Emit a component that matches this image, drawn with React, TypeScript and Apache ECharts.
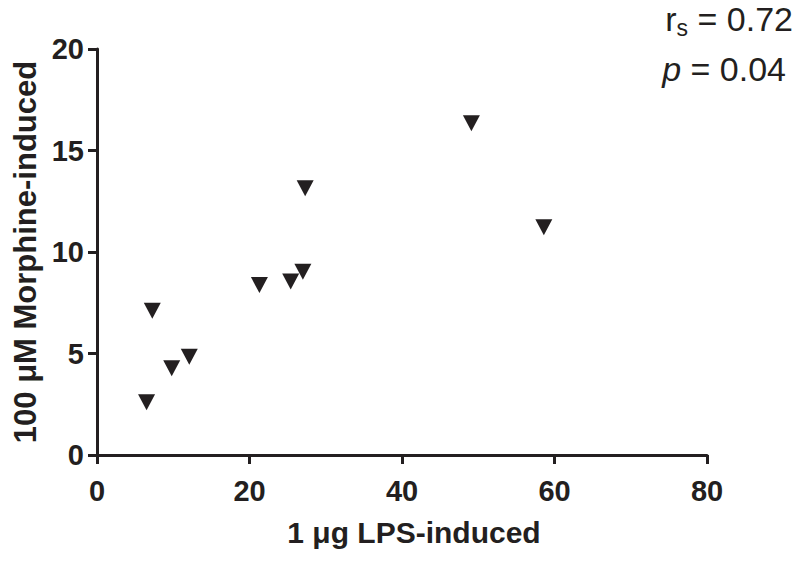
import React, { useEffect, useRef } from "react";
import * as echarts from "echarts";

const lpsValues = [6.5, 7.25, 9.8, 12.1, 21.3, 25.4, 27.0, 27.3, 49.1, 58.6];
const morphineValues = [2.6, 7.1, 4.27, 4.84, 8.37, 8.55, 9.03, 13.14, 16.34, 11.22];
const xTicks = [0, 20, 40, 60, 80];
const yTicks = [0, 5, 10, 15, 20];
const xTitle = "1 \u03bcg LPS-induced";
const yTitle = "100 \u03bcM Morphine-induced";
const rsText = "0.72";
const pText = "0.04";

export default function App() {
  const ref = useRef<HTMLDivElement>(null);
  useEffect(() => {
    if (!ref.current) return;
    const chart = echarts.init(ref.current, undefined, { renderer: "svg" });
    const font = "'Liberation Sans', Arial, Helvetica, sans-serif";
    const axisColor = "#231f20";
    chart.setOption({
      animation: false,
      backgroundColor: "#fff",
      grid: { left: 97, right: 93, top: 49, bottom: 107, containLabel: false },
      xAxis: {
        type: "value",
        min: xTicks[0],
        max: xTicks[xTicks.length - 1],
        interval: 20,
        name: xTitle,
        nameLocation: "middle",
        nameGap: 62,
        nameTextStyle: { fontFamily: font, fontWeight: "bold", fontSize: 30, color: axisColor, padding: [0, 0, 0, 24] },
        axisLine: { show: true, onZero: false, lineStyle: { color: axisColor, width: 3 } },
        axisTick: { show: true, length: 9, lineStyle: { color: axisColor, width: 3 } },
        axisLabel: { fontFamily: font, fontWeight: "bold", fontSize: 29, color: axisColor, margin: 21 },
        splitLine: { show: false },
      },
      yAxis: {
        type: "value",
        min: yTicks[0],
        max: yTicks[yTicks.length - 1],
        interval: 5,
        name: yTitle,
        nameLocation: "middle",
        nameGap: 50,
        nameRotate: 90,
        nameTextStyle: { fontFamily: font, fontWeight: "bold", fontSize: 31, color: axisColor },
        axisLine: { show: true, onZero: false, lineStyle: { color: axisColor, width: 3 } },
        axisTick: { show: true, length: 9, lineStyle: { color: axisColor, width: 3 } },
        axisLabel: { fontFamily: font, fontWeight: "bold", fontSize: 29, color: axisColor, margin: 13 },
        splitLine: { show: false },
      },
      series: [
        {
          type: "scatter",
          data: lpsValues.map((x, i) => [x, morphineValues[i]]),
          symbol: "triangle",
          symbolRotate: 180,
          symbolSize: [17, 16],
          itemStyle: { color: "#231f20", opacity: 1 },
        },
      ],
      graphic: [
        {
          type: "text",
          right: 7,
          top: 2,
          style: {
            text: "{r|r}{s|s}{t| = " + rsText + "}",
            rich: {
              r: { fontFamily: font, fontSize: 34, fill: axisColor, fontWeight: "normal" },
              s: { fontFamily: font, fontSize: 23, fill: axisColor, verticalAlign: "bottom", padding: [17, 0, 0, 0] },
              t: { fontFamily: font, fontSize: 34, fill: axisColor },
            },
          },
        },
        {
          type: "text",
          right: 14,
          top: 52,
          style: {
            text: "{p|p}{t| = " + pText + "}",
            rich: {
              p: { fontFamily: font, fontSize: 34, fontStyle: "italic", fill: axisColor },
              t: { fontFamily: font, fontSize: 34, fill: axisColor },
            },
          },
        },
      ],
    });
    return () => chart.dispose();
  }, []);
  return <div ref={ref} style={{ position: "absolute", left: 0, top: 0, width: 800, height: 562 }} />;
}
